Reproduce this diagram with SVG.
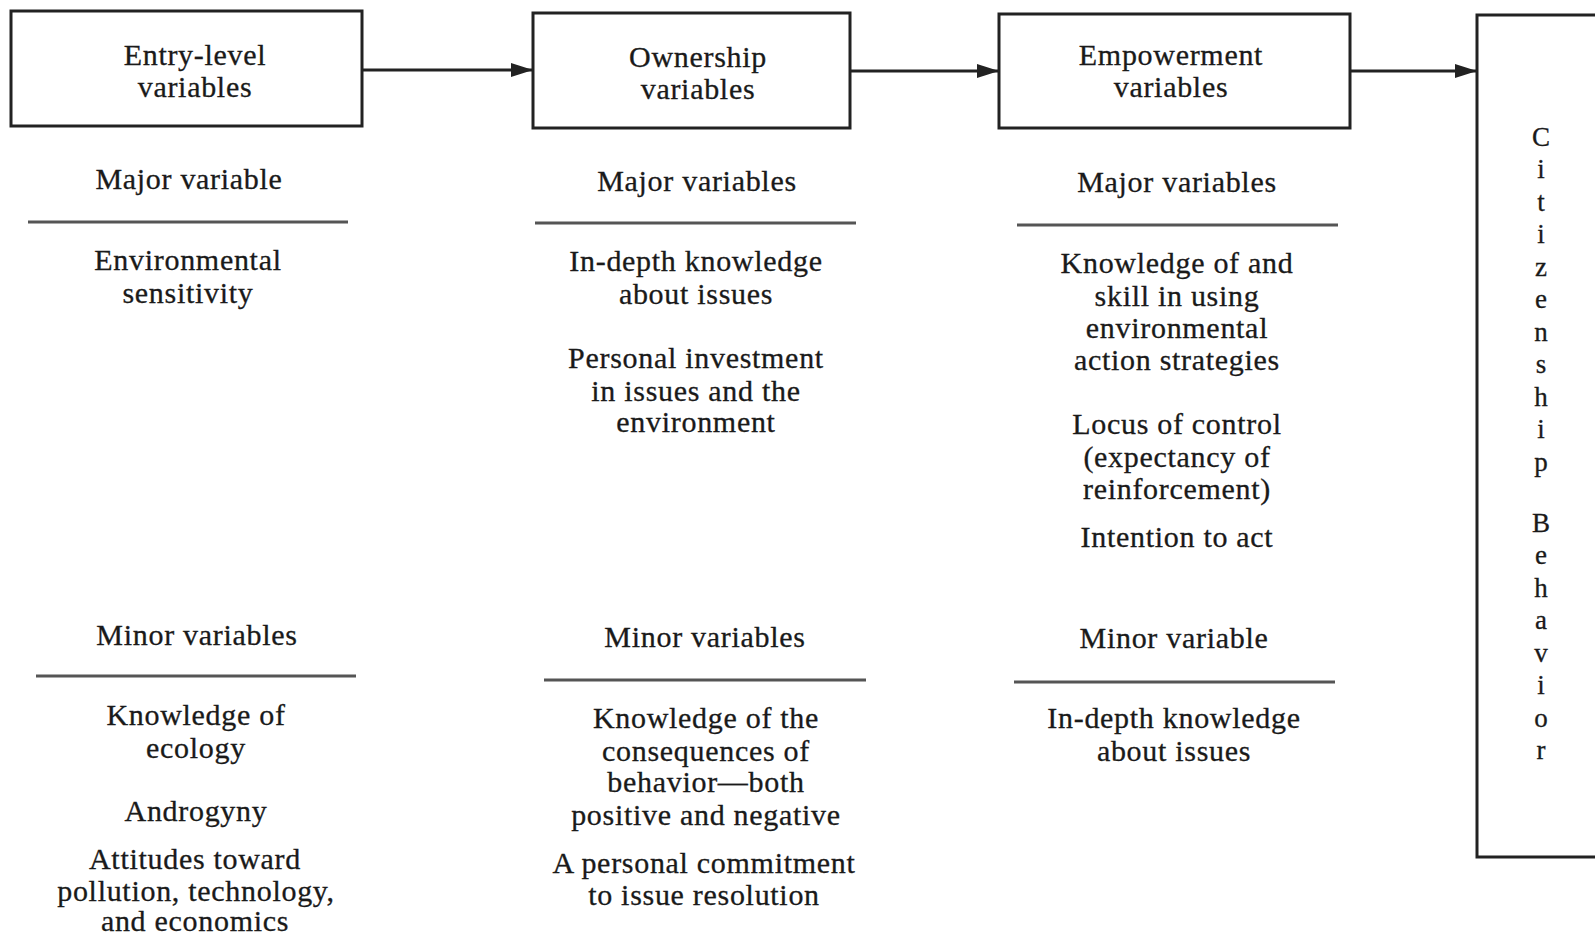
<svg xmlns="http://www.w3.org/2000/svg" width="1595" height="937" viewBox="0 0 1595 937">
<style>
text{font-family:"Liberation Serif","Times New Roman",serif;font-size:30px;fill:#1a1a1a;text-anchor:middle;letter-spacing:0.7px;stroke:#1a1a1a;stroke-width:0.3}
.box{fill:#fff;stroke:#222;stroke-width:3}
.sep{stroke:#555;stroke-width:3}
.conn{stroke:#222;stroke-width:3;fill:none}
.v{font-size:27px;letter-spacing:0}
</style>
<defs>
<marker id="ah" viewBox="0 0 22 16" refX="22" refY="8" markerWidth="22" markerHeight="16" markerUnits="userSpaceOnUse" orient="auto"><path d="M0,1 L22,8 L0,15 z" fill="#222"/></marker>
</defs>
<rect width="1595" height="937" fill="#fff"/>
<g id="connectors">
<line class="conn" x1="362" y1="70" x2="533" y2="70" marker-end="url(#ah)"/>
<line class="conn" x1="850" y1="71" x2="999" y2="71" marker-end="url(#ah)"/>
<line class="conn" x1="1350" y1="71" x2="1477" y2="71" marker-end="url(#ah)"/>
</g>
<g id="entry">
<rect class="box" x="11" y="11" width="351" height="115"/>
<text x="195" y="65">Entry-level</text>
<text x="195" y="97">variables</text>
<text x="189" y="189">Major variable</text>
<line class="sep" x1="28" y1="222" x2="348" y2="222"/>
<text x="188" y="270">Environmental</text>
<text x="188" y="303">sensitivity</text>
<text x="197" y="645">Minor variables</text>
<line class="sep" x1="36" y1="676" x2="356" y2="676"/>
<text x="196" y="725">Knowledge of</text>
<text x="196" y="758">ecology</text>
<text x="196" y="821">Androgyny</text>
<text x="195" y="869">Attitudes toward</text>
<text x="196" y="901">pollution, technology,</text>
<text x="195" y="931">and economics</text>
</g>
<g id="ownership">
<rect class="box" x="533" y="13" width="317" height="115"/>
<text x="698" y="67">Ownership</text>
<text x="698" y="99">variables</text>
<text x="697" y="191">Major variables</text>
<line class="sep" x1="535" y1="223" x2="856" y2="223"/>
<text x="696" y="271">In-depth knowledge</text>
<text x="696" y="304">about issues</text>
<text x="696" y="368">Personal investment</text>
<text x="696" y="401">in issues and the</text>
<text x="696" y="432">environment</text>
<text x="705" y="647">Minor variables</text>
<line class="sep" x1="544" y1="680" x2="866" y2="680"/>
<text x="706" y="728">Knowledge of the</text>
<text x="706" y="761">consequences of</text>
<text x="706" y="792">behavior—both</text>
<text x="706" y="825">positive and negative</text>
<text x="704" y="873">A personal commitment</text>
<text x="704" y="905">to issue resolution</text>
</g>
<g id="empowerment">
<rect class="box" x="999" y="14" width="351" height="114"/>
<text x="1171" y="65">Empowerment</text>
<text x="1171" y="97">variables</text>
<text x="1177" y="192">Major variables</text>
<line class="sep" x1="1017" y1="225" x2="1338" y2="225"/>
<text x="1177" y="273">Knowledge of and</text>
<text x="1177" y="306">skill in using</text>
<text x="1177" y="338">environmental</text>
<text x="1177" y="370">action strategies</text>
<text x="1177" y="434">Locus of control</text>
<text x="1177" y="467">(expectancy of</text>
<text x="1177" y="499">reinforcement)</text>
<text x="1177" y="547">Intention to act</text>
<text x="1174" y="648">Minor variable</text>
<line class="sep" x1="1014" y1="682" x2="1335" y2="682"/>
<text x="1174" y="728">In-depth knowledge</text>
<text x="1174" y="761">about issues</text>
</g>
<g id="citizenship">
<path class="box" d="M1597,15 H1477 V857 H1597"/>
<text class="v" x="1541" y="146">C</text>
<text class="v" x="1541" y="178">i</text>
<text class="v" x="1541" y="211">t</text>
<text class="v" x="1541" y="243">i</text>
<text class="v" x="1541" y="276">z</text>
<text class="v" x="1541" y="308">e</text>
<text class="v" x="1541" y="341">n</text>
<text class="v" x="1541" y="373">s</text>
<text class="v" x="1541" y="406">h</text>
<text class="v" x="1541" y="438">i</text>
<text class="v" x="1541" y="471">p</text>
<text class="v" x="1541" y="532">B</text>
<text class="v" x="1541" y="564">e</text>
<text class="v" x="1541" y="597">h</text>
<text class="v" x="1541" y="629">a</text>
<text class="v" x="1541" y="662">v</text>
<text class="v" x="1541" y="694">i</text>
<text class="v" x="1541" y="727">o</text>
<text class="v" x="1541" y="759">r</text>
</g>
</svg>
